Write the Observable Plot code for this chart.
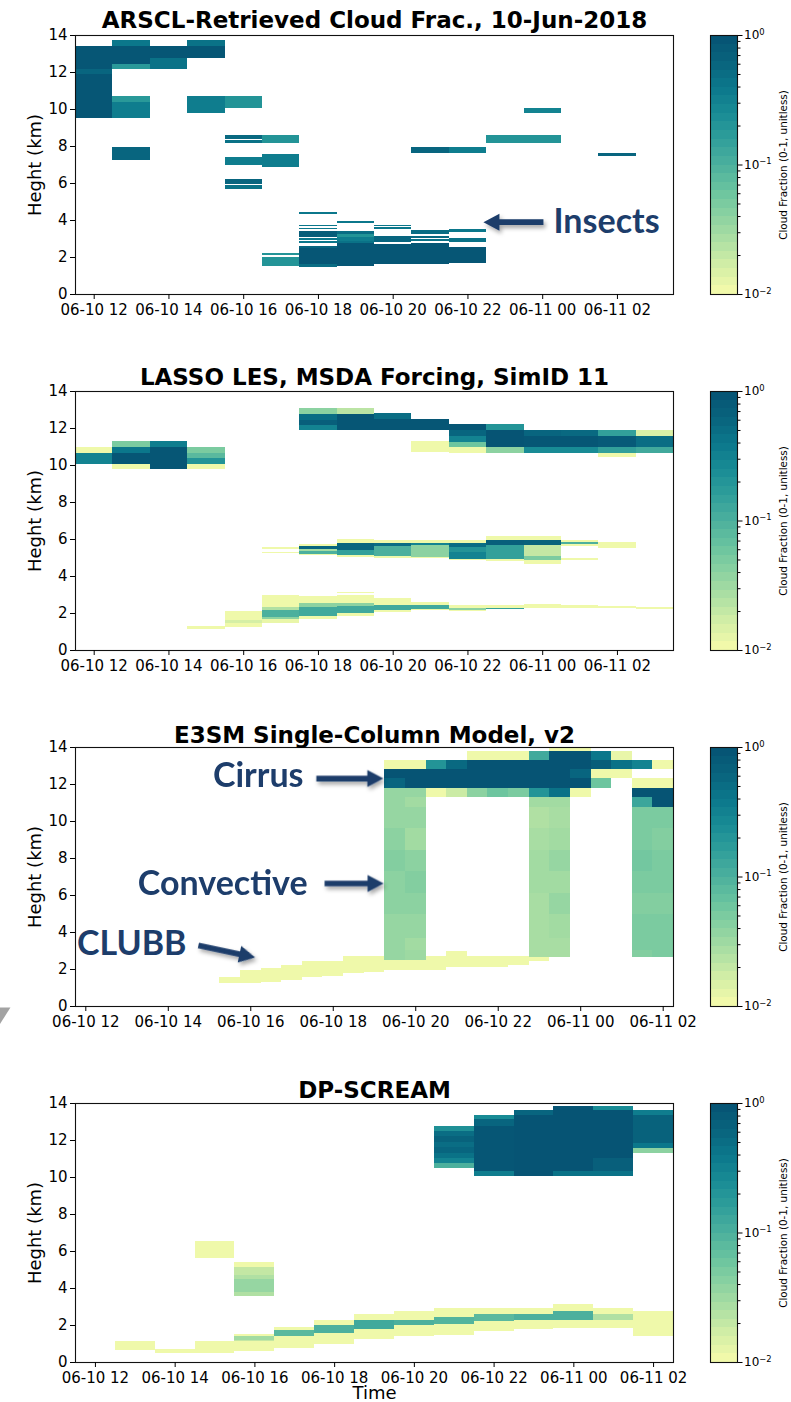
<!DOCTYPE html>
<html><head><meta charset="utf-8">
<script src="https://cdn.jsdelivr.net/npm/d3@7"></script>
<script src="https://cdn.jsdelivr.net/npm/@observablehq/plot@0.6"></script>
<style>
html,body{margin:0;padding:0;background:#fff;}
#root{position:relative;width:791px;height:1402px;overflow:hidden;font-family:"DejaVu Sans";}
#root > div{position:absolute;}
</style></head><body><div id="root"></div>
<script>
// ---------------- DATA ----------------
// each cell: [time (hours since 06-10 00:00, cell centre), z bottom (km), z top (km), cloud fraction]
const titles = ["ARSCL-Retrieved Cloud Frac., 10-Jun-2018", "LASSO LES, MSDA Forcing, SimID 11", "E3SM Single-Column Model, v2", "DP-SCREAM"];
const xTicks = [12, 14, 16, 18, 20, 22, 24, 26];
const yTicks = [0, 2, 4, 6, 8, 10, 12, 14];
const cbarTicks = [0.01, 0.1, 1];
const cbarTickExp = ["\u22122", "\u22121", "0"];
const cbarMinor = [0.02,0.03,0.04,0.05,0.06,0.07,0.08,0.09,0.2,0.3,0.4,0.5,0.6,0.7,0.8,0.9];
const cbarLabel = "Cloud Fraction (0-1, unitless)";
const yLabel = "Heght (km)";
const xLabel = "Time";

const arscl = [
 [12,12.14,13.39,0.9],[12,11.87,12.14,0.6],[12,9.51,11.87,0.9],
 [13,13.39,13.71,0.4],[13,12.45,13.39,0.9],[13,12.14,12.45,0.18],[13,10.37,10.68,0.18],[13,9.51,10.37,0.35],[13,7.27,7.97,0.6],
 [14,12.75,13.39,0.9],[14,12.14,12.75,0.45],
 [15,13.39,13.71,0.45],[15,12.75,13.39,0.9],[15,9.78,10.68,0.35],
 [16,10.08,10.68,0.2],[16,8.39,8.57,0.55],[16,8.15,8.33,0.45],[16,7.0,7.43,0.35],[16,5.95,6.22,0.6],[16,5.65,5.88,0.45],
 [17,8.15,8.57,0.2],[17,6.86,7.58,0.35],[17,2.11,2.24,0.2],[17,1.53,2.02,0.2],
 [18,4.31,4.42,0.4],[18,3.66,3.75,0.4],[18,3.50,3.57,0.4],[18,3.10,3.43,0.75],[18,2.92,3.01,0.4],[18,2.76,2.85,0.4],[18,2.49,2.62,0.6],[18,1.62,2.49,0.9],[18,1.44,1.62,0.5],
 [19,3.82,3.93,0.4],[19,3.25,3.43,0.5],[19,3.07,3.25,0.2],[19,2.89,3.07,0.35],[19,2.74,2.85,0.45],[19,1.53,2.74,0.9],
 [20,3.66,3.75,0.4],[20,3.54,3.61,0.4],[20,2.80,3.16,0.6],[20,1.62,2.70,0.9],
 [21,7.61,7.94,0.6],[21,3.25,3.46,0.5],[21,3.02,3.16,0.55],[21,2.89,2.98,0.45],[21,1.62,2.74,0.9],
 [22,7.61,7.94,0.35],[22,3.34,3.54,0.4],[22,2.80,3.05,0.45],[22,1.66,2.56,0.9],
 [23,8.15,8.57,0.2],
 [24,9.78,10.08,0.3],[24,8.15,8.57,0.2],
 [26,7.45,7.60,0.6]
];

const lasso = [
 [12,10.63,10.95,0.011],[12,10.04,10.63,0.3],
 [13,10.95,11.30,0.05],[13,10.63,10.95,0.4],[13,10.04,10.63,0.9],[13,9.78,10.04,0.011],
 [14,10.95,11.30,0.35],[14,9.78,10.95,0.9],
 [15,10.63,10.95,0.05],[15,10.36,10.63,0.08],[15,10.04,10.36,0.2],[15,9.78,10.04,0.011],[15,1.21,1.30,0.011],[15,1.13,1.19,0.011],
 [16,1.62,2.13,0.011],[16,1.44,1.62,0.016],[16,1.26,1.44,0.011],
 [17,5.46,5.55,0.011],[17,5.23,5.32,0.011],[17,2.34,2.97,0.011],[17,2.16,2.34,0.025],[17,1.80,2.16,0.1],[17,1.66,1.80,0.04],[17,1.48,1.66,0.012],
 [18,12.76,13.06,0.04],[18,12.44,12.76,0.5],[18,12.16,12.44,0.7],[18,11.89,12.16,0.3],
 [18,5.62,5.73,0.011],[18,5.44,5.62,0.6],[18,5.37,5.44,0.03],[18,5.19,5.37,0.1],[18,5.14,5.19,0.011],
 [18,2.52,2.92,0.011],[18,2.34,2.52,0.04],[18,1.84,2.34,0.12],[18,1.66,1.84,0.011],
 [19,12.76,13.06,0.022],[19,11.89,12.76,0.9],
 [19,5.80,6.00,0.011],[19,5.40,5.80,0.6],[19,5.14,5.40,0.15],[19,5.05,5.14,0.011],
 [19,3.06,3.15,0.011],[19,2.56,2.97,0.011],[19,2.38,2.56,0.04],[19,1.98,2.38,0.12],[19,1.84,1.98,0.011],
 [20,12.47,12.83,0.5],[20,11.89,12.47,0.9],
 [20,5.80,5.95,0.011],[20,5.62,5.80,0.5],[20,5.08,5.62,0.1],[20,5.00,5.08,0.011],
 [20,2.43,2.79,0.011],[20,2.16,2.43,0.12],[20,2.07,2.16,0.011],
 [21,11.89,12.47,0.9],[21,10.68,11.30,0.011],
 [21,5.80,5.95,0.011],[21,5.66,5.80,0.3],[21,5.05,5.66,0.04],[21,4.96,5.05,0.011],
 [21,2.43,2.58,0.011],[21,2.22,2.43,0.12],[21,2.16,2.22,0.011],
 [22,11.89,12.22,0.9],[22,11.57,11.89,0.6],[22,11.26,11.57,0.3],[22,10.95,11.26,0.06],[22,10.67,10.95,0.011],
 [22,5.80,5.95,0.011],[22,5.59,5.80,0.5],[22,5.32,5.59,0.2],[22,4.92,5.32,0.3],[22,4.86,4.92,0.011],
 [22,2.29,2.43,0.011],[22,2.16,2.29,0.04],[22,2.09,2.16,0.011],
 [23,11.89,12.22,0.2],[23,10.95,11.89,0.95],[23,10.67,10.95,0.04],
 [23,5.95,6.16,0.011],[23,5.68,5.95,0.7],[23,4.92,5.68,0.15],[23,4.83,4.92,0.011],
 [23,2.29,2.43,0.011],[23,2.22,2.29,0.15],
 [24,11.57,11.89,0.6],[24,10.95,11.57,0.9],[24,10.67,10.95,0.25],
 [24,5.95,6.16,0.011],[24,5.68,5.95,0.65],[24,5.08,5.68,0.02],[24,4.86,5.08,0.05],[24,4.65,4.86,0.011],
 [24,2.25,2.49,0.011],
 [25,11.57,11.89,0.55],[25,10.95,11.57,0.9],[25,10.67,10.95,0.25],
 [25,5.85,5.95,0.011],[25,5.73,5.85,0.1],[25,5.64,5.73,0.011],[25,4.86,4.95,0.011],[25,2.29,2.43,0.011],
 [26,11.57,11.89,0.15],[26,10.95,11.57,0.8],[26,10.67,10.95,0.15],[26,10.41,10.67,0.011],
 [26,5.53,5.86,0.011],[26,2.27,2.38,0.011],
 [27,11.57,11.89,0.015],[27,10.95,11.57,0.5],[27,10.67,10.95,0.12],[27,2.22,2.34,0.011]
];

const e3sm = [
 [23.5,13.80,14.00,0.011],[24.0,13.80,14.00,0.011],
 [21.5,13.31,13.80,0.011],[22.0,13.31,13.80,0.011],[22.5,13.31,13.80,0.011],[23.0,13.31,13.80,0.12],[23.5,13.31,13.80,0.95],[24.0,13.31,13.80,0.95],[24.5,13.31,13.80,0.4],[25.0,13.31,13.80,0.012],
 [19.5,12.81,13.31,0.011],[20.0,12.81,13.31,0.011],[20.5,12.81,13.31,0.2],[21.0,12.81,13.31,0.55],[21.5,12.81,13.31,0.95],[22.0,12.81,13.31,0.95],[22.5,12.81,13.31,0.95],[23.0,12.81,13.31,0.95],[23.5,12.81,13.31,0.95],[24.0,12.81,13.31,0.95],[24.5,12.81,13.31,0.75],[25.0,12.81,13.31,0.45],[25.5,12.81,13.31,0.3],[26.0,12.81,13.31,0.011],
 [19.5,12.32,12.81,0.95],[20.0,12.32,12.81,0.95],[20.5,12.32,12.81,0.95],[21.0,12.32,12.81,0.95],[21.5,12.32,12.81,0.95],[22.0,12.32,12.81,0.95],[22.5,12.32,12.81,0.95],[23.0,12.32,12.81,0.95],[23.5,12.32,12.81,0.95],[24.0,12.32,12.81,0.6],[24.5,12.32,12.81,0.011],[25.0,12.32,12.81,0.011],
 [19.5,11.78,12.32,0.6],[20.0,11.78,12.32,0.95],[20.5,11.78,12.32,0.95],[21.0,11.78,12.32,0.95],[21.5,11.78,12.32,0.95],[22.0,11.78,12.32,0.95],[22.5,11.78,12.32,0.95],[23.0,11.78,12.32,0.95],[23.5,11.78,12.32,0.95],[24.0,11.78,12.32,0.95],[24.5,11.78,12.32,0.06],[25.5,11.78,12.32,0.011],[26.0,11.78,12.32,0.011],
 [19.5,11.30,11.78,0.035],[20.0,11.30,11.78,0.035],[20.5,11.30,11.78,0.011],[21.0,11.30,11.78,0.018],[21.5,11.30,11.78,0.04],[22.0,11.30,11.78,0.06],[22.5,11.30,11.78,0.05],[23.0,11.30,11.78,0.2],[23.5,11.30,11.78,0.45],[24.0,11.30,11.78,0.011],[25.5,11.30,11.78,0.95],[26.0,11.30,11.78,0.95],
 [19.5,10.75,11.30,0.035],[20.0,10.75,11.30,0.03],[23.0,10.75,11.30,0.03],[23.5,10.75,11.30,0.03],[25.5,10.75,11.30,0.13],[26.0,10.75,11.30,0.95],
 // convective columns
 [19.5,9.62,10.75,0.035],[19.5,8.45,9.62,0.04],[19.5,7.28,8.45,0.045],[19.5,6.10,7.28,0.04],[19.5,5.00,6.10,0.04],[19.5,3.65,5.00,0.035],[19.5,3.03,3.65,0.035],[19.5,2.49,3.03,0.035],
 [20.0,9.62,10.75,0.035],[20.0,8.45,9.62,0.03],[20.0,7.28,8.45,0.04],[20.0,6.10,7.28,0.045],[20.0,5.00,6.10,0.04],[20.0,3.65,5.00,0.035],[20.0,3.03,3.65,0.03],[20.0,2.49,3.03,0.032],
 [23.0,9.62,10.75,0.025],[23.0,8.45,9.62,0.028],[23.0,7.28,8.45,0.03],[23.0,6.10,7.28,0.03],[23.0,5.00,6.10,0.028],[23.0,3.65,5.00,0.028],[23.0,3.03,3.65,0.028],[23.0,2.67,3.03,0.028],
 [23.5,9.62,10.75,0.028],[23.5,8.45,9.62,0.03],[23.5,7.28,8.45,0.035],[23.5,6.10,7.28,0.03],[23.5,5.00,6.10,0.035],[23.5,3.65,5.00,0.03],[23.5,3.03,3.65,0.028],[23.5,2.67,3.03,0.028],
 [25.5,9.62,10.75,0.05],[25.5,8.45,9.62,0.05],[25.5,7.28,8.45,0.055],[25.5,6.10,7.28,0.05],[25.5,5.00,6.10,0.045],[25.5,3.65,5.00,0.05],[25.5,3.03,3.65,0.05],[25.5,2.67,3.03,0.045],
 [26.0,9.62,10.75,0.05],[26.0,8.45,9.62,0.045],[26.0,7.28,8.45,0.05],[26.0,6.10,7.28,0.05],[26.0,5.00,6.10,0.045],[26.0,3.65,5.00,0.05],[26.0,3.03,3.65,0.05],[26.0,2.67,3.03,0.05],
 // CLUBB boundary-layer cloud
 [15.5,1.23,1.59,0.011],[16.0,1.23,1.95,0.011],[16.5,1.32,2.07,0.011],[17.0,1.41,2.22,0.011],[17.5,1.55,2.45,0.011],[18.0,1.64,2.45,0.011],[18.5,1.77,2.70,0.011],[19.0,1.86,2.70,0.011],
 [19.5,1.93,2.49,0.011],[20.0,1.93,2.49,0.011],[20.5,1.95,2.70,0.011],[21.0,2.09,2.99,0.011],[21.5,2.09,2.70,0.011],[22.0,2.09,2.70,0.011],[22.5,2.22,2.70,0.011],[23.0,2.45,2.67,0.011]
];

const dpscream = [
 [13,0.67,1.12,0.011],[14,0.49,0.72,0.011],[15,0.49,1.12,0.011],[15,5.62,6.52,0.011],
 [16,5.12,5.39,0.011],[16,4.72,5.12,0.02],[16,4.50,4.72,0.025],[16,3.78,4.50,0.035],[16,3.55,3.78,0.025],
 [16,1.39,1.53,0.011],[16,1.21,1.39,0.03],[16,1.12,1.21,0.02],[16,0.58,1.12,0.011],
 [17,1.75,1.89,0.011],[17,1.39,1.75,0.08],[17,0.76,1.39,0.011],
 [18,2.02,2.29,0.011],[18,1.57,2.02,0.1],[18,0.97,1.57,0.011],
 [19,2.29,2.61,0.011],[19,1.78,2.29,0.12],[19,1.26,1.78,0.011],
 [20,2.25,2.77,0.011],[20,1.98,2.25,0.1],[20,1.39,1.98,0.011],
 [21,2.41,2.92,0.011],[21,2.05,2.41,0.09],[21,1.48,2.05,0.011],
 [22,2.59,2.92,0.011],[22,2.20,2.59,0.08],[22,1.66,2.20,0.011],
 [23,2.59,2.92,0.011],[23,2.29,2.59,0.1],[23,1.80,2.29,0.011],
 [24,2.74,3.14,0.011],[24,2.29,2.74,0.1],[24,1.84,2.29,0.011],
 [25,2.59,2.92,0.011],[25,2.29,2.59,0.025],[25,1.84,2.29,0.011],
 [26,1.42,2.77,0.011],
 [21,12.47,12.74,0.22],[21,12.20,12.47,0.5],[21,11.90,12.20,0.65],[21,11.60,11.90,0.5],[21,11.30,11.60,0.6],[21,11.03,11.30,0.45],[21,10.76,11.03,0.3],[21,10.50,10.76,0.1],
 [22,13.15,13.37,0.25],[22,12.74,13.15,0.6],[22,10.31,12.74,0.9],[22,10.04,10.31,0.35],
 [23,13.37,13.64,0.6],[23,10.04,13.37,0.95],
 [24,10.31,13.86,0.95],[24,10.04,10.31,0.45],
 [25,13.64,13.86,0.25],[25,11.03,13.64,0.95],[25,10.31,11.03,0.7],[25,10.04,10.31,0.45],
 [26,13.37,13.64,0.35],[26,11.84,13.37,0.65],[26,11.57,11.84,0.4],[26,11.30,11.57,0.04]
];

// annotations (data coordinates)
const annotTexts = [
 {panel: 0, text: "Insects", x: 24.29, y: 3.91, anchor: "start"},
 {panel: 2, text: "Cirrus", x: 17.28, y: 12.43, anchor: "end"},
 {panel: 2, text: "Convective", x: 17.38, y: 6.59, anchor: "end"},
 {panel: 2, text: "CLUBB", x: 14.44, y: 3.35, anchor: "end"}
];
const annotArrows = [
 {panel: 0, x: 24.02, y: 3.91, len: 60, rot: -90},
 {panel: 2, x: 17.59, y: 12.32, len: 67, rot: 90},
 {panel: 2, x: 17.79, y: 6.65, len: 59, rot: 90},
 {panel: 2, x: 14.73, y: 3.30, len: 58, rot: 102}
];
// grey fragment at the far left (cut-off pointer)
const greyFragment = [{panel: 2, x: 9.93, y: -0.05}];

// ---------------- STYLE ----------------
const cmapStops = ["#f6fbab","#d6efa6","#b0e0a3","#8cd2a1","#69c39f","#4cb09d","#2f9e9a","#188b95","#0b778b","#08637d","#065273"];
const interp = d3.piecewise(d3.interpolateRgb, cmapStops);
const colorOpts = {type: "log", domain: [0.01, 1], interpolate: t => interp(t), clamp: true};
const annColor = "#1d3d6b";
const fmtTime = h => `06-${h < 24 ? "10" : "11"} ${String(h % 24).padStart(2, "0")}`;

const panels = [
 {cells: arscl, dt: 1, domain: [11.5, 27.5], top: 0, titleDy: -15},
 {cells: lasso, dt: 1, domain: [11.5, 27.5], top: 356, titleDy: -14},
 {cells: e3sm, dt: 0.5, domain: [11.75, 26.25], top: 712, titleDy: -12},
 {cells: dpscream, dt: 1, domain: [11.5, 26.5], top: 1068, titleDy: -13, xlabel: true}
];

const arrowShape = {
  draw(context, l) {
    const w = 2.8, hw = 8.5, hl = 16, b = -(l - hl);
    context.moveTo(-w, 0); context.lineTo(-w, b); context.lineTo(-hw, b);
    context.lineTo(0, -l); context.lineTo(hw, b); context.lineTo(w, b);
    context.lineTo(w, 0); context.closePath();
  }
};
const wedgeShape = {
  draw(context) {
    context.moveTo(-12, 0); context.lineTo(10, 0); context.lineTo(-12, 35); context.closePath();
  }
};

const root = document.getElementById("root");
const PH = 259;

panels.forEach((p, i) => {
  const mb = p.xlabel ? 40 : 30;
  const hw = p.dt / 2;
  const texts = annotTexts.filter(d => d.panel === i);
  const arrows = annotArrows.filter(d => d.panel === i);
  const marks = [
    Plot.rect(p.cells, {x1: d => d[0] - hw, x2: d => d[0] + hw, y1: d => d[1], y2: d => d[2], fill: d => d[3], inset: 0, clip: true, shapeRendering: "crispEdges"}),
    Plot.frame({stroke: "#111", strokeWidth: 1.1}),
    Plot.axisX({ticks: xTicks, tickFormat: fmtTime, tickSize: 5, tickPadding: 5, label: null, fontSize: 15}),
    Plot.axisY({ticks: yTicks, tickSize: 5, tickPadding: 3, label: null, fontSize: 15}),
    Plot.text([titles[i]], {frameAnchor: "top", dy: p.titleDy, fontSize: 23, fontWeight: "bold", textAnchor: "middle", lineAnchor: "middle"}),
    Plot.text([yLabel], {frameAnchor: "left", dx: -40, rotate: -90, fontSize: 18, textAnchor: "middle", lineAnchor: "middle"})
  ];
  if (p.xlabel) marks.push(Plot.text([xLabel], {frameAnchor: "bottom", dy: 31, fontSize: 18, textAnchor: "middle", lineAnchor: "middle"}));
  if (arrows.length) marks.push(Plot.vector(arrows, {x: "x", y: "y", length: "len", rotate: "rot", anchor: "start", shape: arrowShape, fill: annColor, stroke: "none"}));
  const tStart = texts.filter(d => d.anchor === "start"), tEnd = texts.filter(d => d.anchor === "end");
  if (tStart.length) marks.push(Plot.text(tStart, {x: "x", y: "y", text: "text", textAnchor: "start", fontSize: 34, fontWeight: "bold", fontFamily: "Lato", fill: annColor, lineAnchor: "middle"}));
  if (tEnd.length) marks.push(Plot.text(tEnd, {x: "x", y: "y", text: "text", textAnchor: "end", fontSize: 34, fontWeight: "bold", fontFamily: "Lato", fill: annColor, lineAnchor: "middle"}));
  const frag = greyFragment.filter(d => d.panel === i);
  if (frag.length) marks.push(Plot.vector(frag, {x: "x", y: "y", length: 10, rotate: 0, anchor: "start", shape: wedgeShape, fill: "#a3a3a3", stroke: "none"}));

  const chart = Plot.plot({
    width: 791, height: 35 + PH + mb,
    marginLeft: 75, marginRight: 118, marginTop: 35, marginBottom: mb,
    x: {domain: p.domain},
    y: {domain: [0, 14]},
    color: colorOpts,
    length: {type: "identity"},
    style: {fontFamily: "DejaVu Sans", fontSize: "15px", color: "black", background: "transparent", overflow: "visible"},
    marks
  });
  const svg = d3.select(chart);
  const fid = "shadow" + i;
  svg.insert("defs", ":first-child").html(`<filter id="${fid}" x="-30%" y="-60%" width="170%" height="260%"><feDropShadow dx="2" dy="3" stdDeviation="2" flood-color="#000" flood-opacity="0.35"/></filter>`);
  svg.selectAll('g[aria-label="vector"]').filter((d, k, n) => n[k].getAttribute("fill") === annColor).attr("filter", `url(#${fid})`);
  const wrap = document.createElement("div");
  wrap.style.left = "0px"; wrap.style.top = p.top + "px";
  wrap.appendChild(chart);
  root.appendChild(wrap);

  // colorbar
  const nb = 30;
  const bands = d3.range(nb).map(k => ({lo: 10 ** (-2 + 2 * k / nb), hi: 10 ** (-2 + 2 * (k + 1) / nb), mid: 10 ** (-2 + 2 * (k + 0.5) / nb)}));
  const cbar = Plot.plot({
    width: 91, height: 35 + PH + 30,
    marginLeft: 10, marginRight: 54, marginTop: 35, marginBottom: 30,
    x: {domain: [0, 1], axis: null},
    y: {type: "log", domain: [0.01, 1]},
    color: colorOpts,
    style: {fontFamily: "DejaVu Sans", fontSize: "12px", color: "black", background: "transparent", overflow: "visible"},
    marks: [
      Plot.rect(bands, {x1: d => 0, x2: d => 1, y1: "lo", y2: "hi", fill: "mid", inset: 0, shapeRendering: "crispEdges"}),
      Plot.frame({stroke: "#111", strokeWidth: 1.1}),
      Plot.axisY({anchor: "right", ticks: cbarTicks, tickFormat: d => "10^" + cbarTickExp[cbarTicks.indexOf(d)], tickSize: 4.5, tickPadding: 2, label: null, fontSize: 12}),
      Plot.axisY({anchor: "right", ticks: cbarMinor, tickFormat: () => "", tickSize: 2.5, label: null}),
      Plot.text([cbarLabel], {frameAnchor: "right", dx: 46, rotate: -90, fontSize: 10.4, textAnchor: "middle", lineAnchor: "middle"})
    ]
  });
  // render exponents as real superscripts
  d3.select(cbar).selectAll("text").each(function() {
    const t = this.textContent;
    if (t.startsWith("10^")) {
      const exp = t.slice(3);
      const sel = d3.select(this);
      sel.text("10");
      sel.append("tspan").attr("dy", "-0.55em").attr("font-size", "0.7em").text(exp);
    }
  });
  const cw = document.createElement("div");
  cw.style.left = "700px"; cw.style.top = p.top + "px";
  cw.appendChild(cbar);
  root.appendChild(cw);
});
</script></body></html>
